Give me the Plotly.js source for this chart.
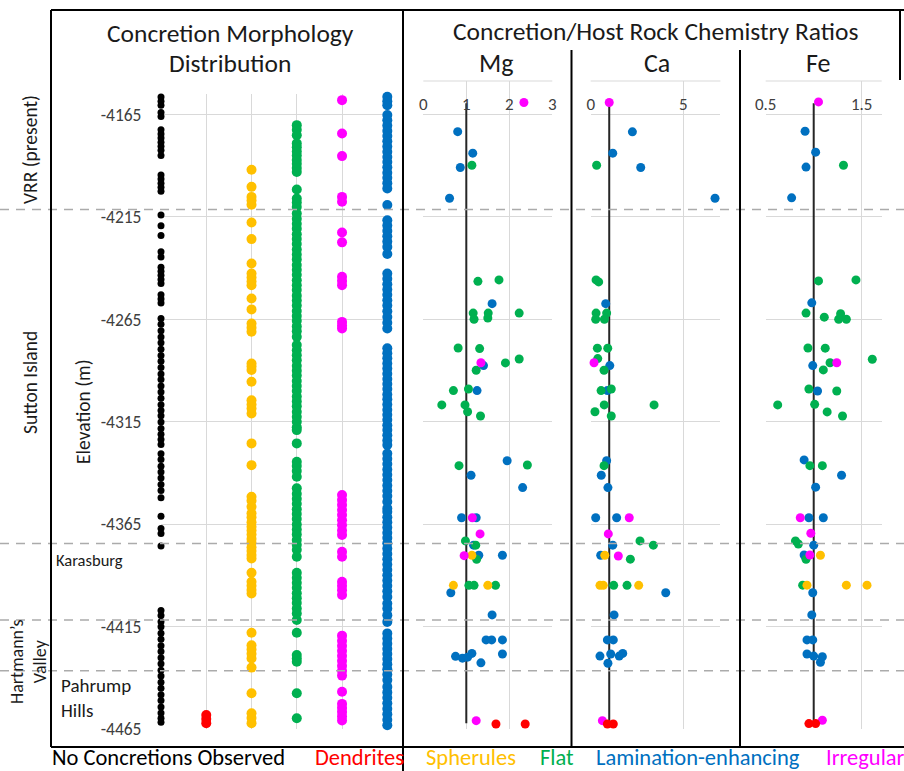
<!DOCTYPE html>
<html>
<head>
<meta charset="utf-8">
<script src="https://cdn.plot.ly/plotly-3.0.1.min.js"></script>
<style>html,body{margin:0;padding:0;background:#fff;}#chart{width:904px;height:771px;}</style>
</head>
<body>
<div id="chart"></div>
<script>
// ---------------- DATA ----------------
const morphCategories = ['No Concretions Observed','Dendrites','Spherules','Flat','Irregular','Lamination-enhancing'];
const legendLabels = ['No Concretions Observed','Dendrites','Spherules','Flat','Lamination-enhancing','Irregular'];
const elevTickVals = [-4165,-4215,-4265,-4315,-4365,-4415,-4465];
const elevTickText = ['-4165','-4215','-4265','-4315','-4365','-4415','-4465'];
const memberBoundaries = [-4211.3,-4374.3,-4411.7,-4436.4];
const memberNames = ['VRR (present)','Sutton Island','Karasburg','Hartmann\u2019s<br>Valley','Pahrump<br>Hills'];
const mgTicks = [0,1,2,3];
const caTicks = [0,5];
const feTicks = [0.5,1.5];
const feTickText = ['0.5','1.5'];
const refRatio = 1;
const refElev = [-4159.6,-4462];

// Morphology distribution (elevation of each observation)
const noneElev = [-4156.5,-4158.5,-4160.5,-4164,-4166,-4172.5,-4174.5,-4176.5,-4178.5,-4180.5,-4182.5,-4185,
 -4194.5,-4196.5,-4198.5,-4200.5,-4202.5,-4214,-4219.3,-4224,-4232,-4234.5,-4239.5,-4241.5,-4243.5,-4245.5,-4247.5,
 -4253,-4255,-4257,-4264.5,-4267.3,-4270.5,-4273.6,-4276.4,-4279.5,-4282.6,-4285.4,-4288.5,-4291.6,-4294.3,-4297.5,
 -4300.4,-4303.5,-4306.6,-4309.4,-4312,-4315,-4318.2,-4321,-4323.6,-4326,-4330.5,-4333.4,-4336.6,-4339.5,-4342.4,
 -4345.6,-4348.5,-4352,-4361,-4367,-4369.5,-4375.5,-4407,-4409.5,-4412.5,-4415,-4418.1,-4421,-4424.2,-4427,-4430.1,
 -4433,-4436.2,-4439,-4442.1,-4445,-4448.2,-4451,-4454.1,-4457,-4459.6,-4461.5];
const dendriteElev = [-4458,-4460,-4462];
const spheruleElev = [-4192,-4200.3,-4205.2,-4207,-4209,-4217.7,-4225.8,-4237.7,-4242.6,-4244.5,-4246.5,-4248.3,
 -4254.8,-4260.1,-4267,-4269,-4271,-4286.5,-4288,-4289.7,-4295.4,-4304.4,-4306.5,-4308.5,-4310.9,-4325.5,-4336.1,
 -4351.5,-4353.5,-4356.4,-4359.6,-4361.5,-4364,-4366.2,-4368,-4370,-4372.1,-4374,-4376.2,-4378,-4380,-4381.6,
 -4388.6,-4393,-4395,-4397,-4398.7,-4417.9,-4424,-4426,-4428.1,-4430.4,-4434.9,-4447.4,-4457.2,-4459.5,-4462];
const flatElev = [-4170.2,-4172.5,-4175.1,-4179.1,-4181,-4183.1,-4185,-4187.2,-4189,-4191.1,-4193,-4201.6,-4206,-4208,
 -4210.1,-4213.3,-4215.9,-4218.3,-4220.7,-4223.4,-4225.8,-4228.2,-4230.9,-4233.3,-4235.7,-4238.4,-4240.8,-4243.2,
 -4245.9,-4248.3,-4250.7,-4253.4,-4255.8,-4258.2,-4260.9,-4263.3,-4265.7,-4268.4,-4270.8,-4273.5,-4277.5,-4280.1,
 -4282.5,-4284.9,-4287.6,-4290,-4292.4,-4295.1,-4297.5,-4299.9,-4302.6,-4305,-4307.4,-4310.1,-4312.5,-4314.9,
 -4317.6,-4319,-4325.5,-4334.5,-4336.5,-4339,-4341.8,-4347.4,-4350.1,-4352.5,-4354.9,-4357.6,-4360,-4362.4,-4365.1,
 -4367.5,-4369.9,-4372.6,-4375,-4377.4,-4380.8,-4388.6,-4391.1,-4393.5,-4395.9,-4398.6,-4401,-4403.4,-4406.1,
 -4408.5,-4411.7,-4417.9,-4428.8,-4430.5,-4432,-4447.4,-4459.6];
const irregularElev = [-4158,-4174.3,-4185.3,-4205.2,-4207.6,-4222.6,-4227.4,-4244.2,-4246.3,-4248.3,-4266.2,-4268,
 -4269.4,-4350.7,-4353.1,-4355.5,-4358,-4360.4,-4363,-4365.4,-4368,-4370.2,-4378.4,-4380.8,-4393,-4395,-4397.1,
 -4399.5,-4419.3,-4421.8,-4424.2,-4426.7,-4429.1,-4431.6,-4434,-4436.4,-4438.8,-4446.7,-4452.6,-4454.6,-4456.6,
 -4458.7,-4460.7];
const laminationElev = [-4156.4,-4158.5,-4160.5,-4165.3,-4167.8,-4170.4,-4173,-4175.5,-4178.1,-4180.6,-4183.2,
 -4185.7,-4188.2,-4190.8,-4193.4,-4195.9,-4198.5,-4201.1,-4209.2,-4216.6,-4219.2,-4221.8,-4224.4,-4227,-4229.6,
 -4233.1,-4242.6,-4245.2,-4247.8,-4250.4,-4253,-4255.6,-4258.2,-4261,-4263.8,-4266.6,-4269.4,-4279.1,-4281.5,
 -4284,-4286.5,-4289,-4291.5,-4294.1,-4296.5,-4299,-4301.6,-4304,-4306.5,-4309.1,-4311.5,-4314,-4316.6,-4319,
 -4321.5,-4324.1,-4326.3,-4330.4,-4333,-4335.6,-4338.2,-4340.8,-4343.4,-4346,-4348.6,-4351.2,-4354,-4357.2,
 -4358.9,-4361.5,-4364,-4366.5,-4369.1,-4371.6,-4374.2,-4376.8,-4379.4,-4382,-4384.6,-4387.2,-4389.8,-4392.4,
 -4395,-4397.6,-4400.4,-4403.6,-4406.1,-4409.3,-4412.6,-4418.2,-4420.7,-4423.2,-4425.7,-4428.2,-4430.7,-4433.2,
 -4435.7,-4438.3,-4441,-4444.3,-4447,-4449.6,-4452.3,-4455,-4457.6,-4460.3,-4463];

// Mg concretion/host ratios
const mgLamElev = [-4173.5,-4184,-4191,-4206,-4257.4,-4287.6,-4299.8,-4334,-4341.1,-4347.1,-4361.8,-4361.8,-4375.2,
 -4380.1,-4380.1,-4398.4,-4409.2,-4421.4,-4421.4,-4421.4,-4428.3,-4429.4,-4430.3,-4429.8,-4428,-4432.6];
const mgLamVal = [0.80,1.15,0.86,0.61,1.60,1.40,1.25,1.95,1.11,2.31,0.89,1.23,1.17,1.29,1.84,0.64,1.60,1.46,1.59,
 1.84,1.84,0.75,0.91,1.03,1.13,1.34];
const mgFlatElev = [-4189.9,-4246.5,-4245.8,-4262,-4262,-4262,-4265,-4264.4,-4279,-4279.3,-4286.3,-4284.4,-4289.9,
 -4299.8,-4299,-4306.8,-4306.8,-4310.1,-4312.2,-4336.1,-4336.4,-4373.1,-4375.2,-4382.1,-4394.8,-4394.8,-4394.8];
const mgFlatVal = [1.13,1.27,1.76,1.16,1.51,2.23,1.18,1.50,0.81,1.31,1.91,2.23,1.23,0.70,1.05,0.43,0.97,1.03,1.33,
 2.42,0.83,0.98,1.22,1.24,1.06,1.18,1.68];
const mgSphElev = [-4380.1,-4394.8,-4394.8];
const mgSphVal = [1.13,0.70,1.50];
const mgIrrElev = [-4159.3,-4286.2,-4361.8,-4369.7,-4380.3,-4460.8];
const mgIrrVal = [2.34,1.34,1.14,1.32,0.95,1.23];
const mgDenElev = [-4462.4,-4462.4];
const mgDenVal = [1.69,2.37];

// Ca concretion/host ratios
const caLamElev = [-4173.6,-4184,-4191,-4206,-4257.4,-4287.6,-4299.8,-4334,-4341.1,-4347.1,-4361.8,-4361.8,-4375.2,
 -4380.1,-4398.4,-4409.2,-4421.4,-4421.4,-4429.3,-4428.3,-4429.3,-4428,-4432.8];
const caLamVal = [2.25,1.19,2.70,6.71,0.81,1.03,0.90,0.86,0.57,0.93,0.27,1.40,1.19,0.54,4.05,1.26,0.90,1.22,0.50,
 1.08,1.54,1.73,0.93];
const caFlatElev = [-4189.9,-4245.8,-4246.8,-4262,-4262,-4265,-4265,-4279.1,-4279.1,-4284.2,-4289.9,-4299.8,-4299,
 -4306.8,-4306.8,-4310.1,-4312.2,-4336.4,-4373.1,-4375.2,-4382,-4394.8,-4394.8];
const caFlatVal = [0.32,0.29,0.43,0.29,0.86,0.27,0.74,0.36,0.92,0.38,0.72,0.56,1.11,0.73,3.42,0.23,1.11,0.72,2.66,
 3.38,2.14,1.24,1.96];
const caSphElev = [-4380.1,-4394.8,-4394.8,-4394.8];
const caSphVal = [0.76,0.50,0.68,2.59];
const caIrrElev = [-4159.3,-4286.2,-4361.8,-4369.7,-4380.5,-4460.8];
const caIrrVal = [1.0,0.18,2.08,0.95,1.49,0.63];
const caDenElev = [-4462.4,-4462.4];
const caDenVal = [0.90,1.22];

// Fe concretion/host ratios
const feLamElev = [-4173.3,-4183.5,-4190.8,-4205.8,-4257,-4287.6,-4300,-4333.6,-4341.1,-4346.9,-4361.8,-4361.8,
 -4375.2,-4380,-4398.4,-4409.2,-4421.4,-4421.4,-4428.3,-4429.3,-4429.6,-4432.3];
const feLamVal = [0.91,1.02,0.92,0.77,0.98,0.99,1.04,0.90,1.29,1.02,0.95,1.10,1.00,0.90,0.99,0.98,0.93,0.99,0.93,
 1.00,1.09,1.07];
const feFlatElev = [-4189.9,-4246.3,-4245.8,-4262,-4264,-4262.3,-4265,-4265,-4279,-4279.1,-4284.5,-4286.2,-4289.7,
 -4299,-4300,-4306.8,-4306.5,-4310.2,-4312.2,-4336.4,-4336.4,-4373.1,-4374.6,-4382.1,-4394.7];
const feFlatVal = [1.31,1.05,1.44,0.92,1.11,1.28,1.26,1.34,0.94,1.12,1.61,1.17,1.10,0.95,1.24,0.625,1.01,1.14,1.30,
 0.96,1.09,0.81,0.84,0.92,0.885];
const feSphElev = [-4380.1,-4394.7,-4394.7,-4394.7];
const feSphVal = [1.07,0.93,1.34,1.555];
const feIrrElev = [-4159,-4286.2,-4361.8,-4369.4,-4380,-4460.6];
const feIrrVal = [1.05,1.24,0.86,0.97,0.96,1.09];
const feDenElev = [-4462.2,-4462.2];
const feDenVal = [0.95,1.02];

// ---------------- STYLE ----------------
const COL = {none:'#000000', den:'#FF0000', sph:'#FFC000', flat:'#00B050', lam:'#0070C0', irr:'#FF00FF'};
const FONT = 'Carlito, Lato, "Noto Sans", sans-serif';
const GRID = '#d9d9d9';
const W = 904, H = 771;
const px = x => x / W;
const py = y => 1 - y / H;

// ---------------- TRACES ----------------
const traces = [];
function pts(xs, ys, color, size, xa, ya) {
  traces.push({type:'scatter', mode:'markers', x:xs, y:ys, xaxis:xa, yaxis:ya, cliponaxis:false,
    marker:{color:color, size:size, line:{width:0}}, hoverinfo:'x+y'});
}
const morphSeries = [
  [noneElev, COL.none, 7], [dendriteElev, COL.den, 10], [spheruleElev, COL.sph, 10],
  [flatElev, COL.flat, 10], [irregularElev, COL.irr, 10], [laminationElev, COL.lam, 10]];
morphSeries.forEach((s, i) => pts(s[0].map(() => morphCategories[i]), s[0], s[1], s[2], 'x', 'y'));

function refLine(xa) {
  traces.push({type:'scatter', mode:'lines', x:[refRatio, refRatio], y:refElev, xaxis:xa, yaxis:'y2',
    line:{color:'#262626', width:2}, hoverinfo:'skip', cliponaxis:false});
}
const MS = 9;
[['x2', [[mgLamVal,mgLamElev,COL.lam],[mgFlatVal,mgFlatElev,COL.flat],[mgSphVal,mgSphElev,COL.sph],[mgIrrVal,mgIrrElev,COL.irr],[mgDenVal,mgDenElev,COL.den]]],
 ['x3', [[caLamVal,caLamElev,COL.lam],[caFlatVal,caFlatElev,COL.flat],[caSphVal,caSphElev,COL.sph],[caIrrVal,caIrrElev,COL.irr],[caDenVal,caDenElev,COL.den]]],
 ['x4', [[feLamVal,feLamElev,COL.lam],[feFlatVal,feFlatElev,COL.flat],[feSphVal,feSphElev,COL.sph],[feIrrVal,feIrrElev,COL.irr],[feDenVal,feDenElev,COL.den]]]
].forEach(([xa, series]) => {
  refLine(xa);
  series.forEach(s => pts(s[0], s[1], s[2], MS, xa, 'y2'));
});

// ---------------- LAYOUT ----------------
const yDomLeft = [py(729.3), py(94)];
const yDomRight = [py(729.3), py(81)];
const topAxisPos = py(113);
function ratioAxis(dom, range, tickvals, ticktext) {
  return {domain:dom, range:range, anchor:'free', position:topAxisPos, side:'top',
    tickmode:'array', tickvals:tickvals, ticktext:ticktext, showgrid:true, gridcolor:GRID, gridwidth:1,
    zeroline:false, showline:false, ticks:'', tickfont:{family:FONT, size:17, color:'#404040'}, fixedrange:true};
}

const shapes = [];
memberBoundaries.forEach(e => shapes.push({type:'line', xref:'paper', yref:'y', x0:0, x1:1, y0:e, y1:e,
  line:{color:'#ababab', width:1.5, dash:'9px,7px'}, layer:'above'}));
function seg(x0, y0, x1, y1, color, width) {
  shapes.push({type:'line', xref:'paper', yref:'paper', x0:px(x0), x1:px(x1), y0:py(y0), y1:py(y1),
    line:{color:color, width:width}});
}
seg(51, 10, 904, 10, '#000', 2);
seg(51, 10, 51, 747, '#000', 2);
seg(51, 747, 904, 747, '#000', 2);
seg(403, 10, 403, 771, '#000', 2);
seg(571.5, 50, 571.5, 747, '#000', 2);
seg(740, 50, 740, 747, '#000', 2);
seg(900, 10, 900, 80, '#000', 2);
seg(423.3, 81, 552.3, 81, GRID, 1);
seg(590.7, 81, 720.4, 81, GRID, 1);
seg(765.7, 81, 881.7, 81, GRID, 1);

const ann = [];
function txt(text, x, y, size, opts) {
  ann.push(Object.assign({text:text, xref:'paper', yref:'paper', x:px(x), y:py(y), showarrow:false,
    xanchor:'center', yanchor:'middle', font:{family:FONT, size:size, color:'#1a1a1a'}}, opts || {}));
}
txt('Concretion Morphology', 230, 34, 25.5);
txt('Distribution', 230, 63, 25.5);
txt('Concretion/Host Rock Chemistry Ratios', 655, 32, 25.5);
txt('Mg', 496, 63, 26);
txt('Ca', 657, 63, 26);
txt('Fe', 818, 63, 26);
txt(memberNames[0], 30, 150, 19.5, {textangle:-90});
txt(memberNames[1], 30, 383, 19.5, {textangle:-90});
txt(memberNames[2], 54, 560, 16.5, {xanchor:'left'});
txt(memberNames[3], 28, 662, 18, {textangle:-90});
txt(memberNames[4], 59, 698, 19, {xanchor:'left', align:'left'});
const legendColors = [COL.none, COL.den, COL.sph, COL.flat, COL.lam, COL.irr];
const legendX = [50, 313, 424, 538, 594, 824];
legendLabels.forEach((l, i) => txt(l, legendX[i], 757, 22.5, {xanchor:'left', font:{family:FONT, size:22.5, color:legendColors[i]}}));

const layout = {
  width:W, height:H, margin:{l:0, r:0, t:0, b:0}, paper_bgcolor:'#ffffff', plot_bgcolor:'rgba(0,0,0,0)',
  showlegend:false, hovermode:'closest',
  xaxis:{domain:[px(161), px(387.3)], type:'category', categoryorder:'array', categoryarray:morphCategories,
    range:[0, 5], showticklabels:false, ticks:'', showgrid:true, gridcolor:GRID, zeroline:false, showline:false,
    anchor:'y', fixedrange:true},
  yaxis:{domain:yDomLeft, range:[-4465, -4155], tickmode:'array', tickvals:elevTickVals, ticktext:elevTickText,
    showgrid:true, gridcolor:GRID, zeroline:false, showline:false, ticks:'outside', ticklen:15,
    tickcolor:'rgba(0,0,0,0)', tickfont:{family:FONT, size:17.5, color:'#404040'}, anchor:'x',
    title:{text:'Elevation (m)', standoff:4, font:{family:FONT, size:19.5, color:'#1a1a1a'}}, fixedrange:true},
  xaxis2:ratioAxis([px(423.3), px(552.3)], [0, 3], mgTicks, mgTicks.map(String)),
  xaxis3:ratioAxis([px(590.7), px(720.4)], [0, 7], caTicks, caTicks.map(String)),
  xaxis4:ratioAxis([px(765.7), px(881.7)], [0.5, 1.708], feTicks, feTickText),
  yaxis2:{domain:yDomRight, range:[-4465, -4148.8], tickmode:'array', tickvals:elevTickVals,
    showticklabels:false, showgrid:true, gridcolor:GRID, zeroline:false, showline:false, ticks:'',
    anchor:'x2', fixedrange:true},
  shapes:shapes, annotations:ann
};

Plotly.newPlot('chart', traces, layout, {displayModeBar:false, staticPlot:true});
</script>
</body>
</html>
